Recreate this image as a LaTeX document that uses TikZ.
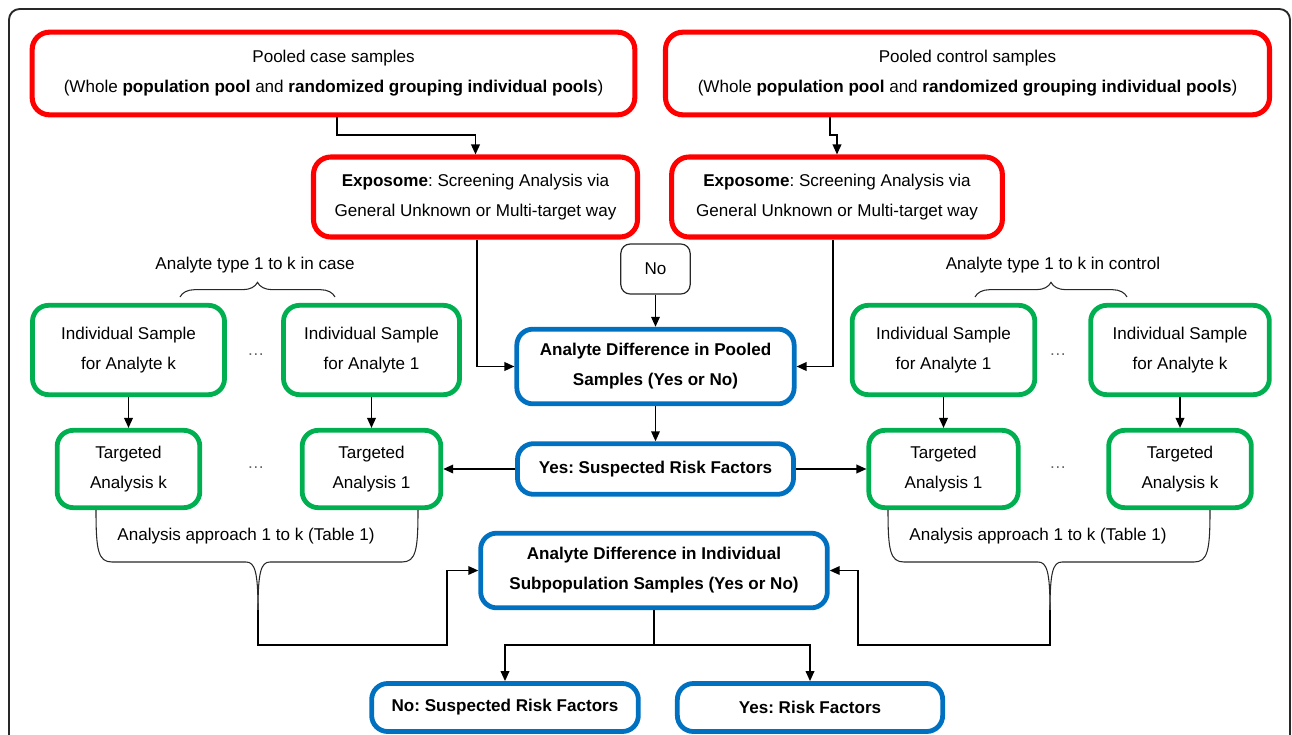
\documentclass[tikz,border=0pt]{standalone}
\usepackage{fontspec}
\setmainfont{Liberation Sans}
\usepackage{xcolor}
\usepackage{tikz}
\usetikzlibrary{arrows.meta, positioning, decorations.pathreplacing}
\frenchspacing

\definecolor{poolred}{RGB}{255,0,0}
\definecolor{samplegreen}{RGB}{0,176,80}
\definecolor{resultblue}{RGB}{0,112,192}
\definecolor{framegray}{RGB}{40,40,40}

\begin{document}
\begin{tikzpicture}[x=0.75pt,y=0.75pt,yscale=-1,xscale=1,
  every node/.style={font=\fontsize{12.8}{22.5}\selectfont, align=center, inner sep=0pt},
  redbox/.style={draw=poolred, line width=3.8pt, rounded corners=13pt, fill=white},
  greenbox/.style={draw=samplegreen, line width=3.6pt, rounded corners=12pt, fill=white},
  bluebox/.style={draw=resultblue, line width=3.6pt, rounded corners=12pt, fill=white, font=\fontsize{12.8}{22.5}\selectfont\bfseries},
  nobox/.style={draw=framegray, line width=0.9pt, rounded corners=7pt, fill=white},
  arr/.style={draw=black, line width=1.1pt, -{Triangle[length=7.5pt,width=6.5pt]}},
  bracestyle/.style={draw=framegray, line width=0.8pt},
  dotsnode/.style={text=black!60}
]
\useasboundingbox (0,0) rectangle (1292,735);

%Frame
\draw[framegray, line width=1.4pt, rounded corners=8pt] (9,740) -- (9,9) -- (1290,9) -- (1290,740);

%Pooled samples
\node[redbox, minimum width=452pt, minimum height=62pt] (casepool) at (333.5,73.5)
  {Pooled case samples\\(Whole \textbf{population pool} and \textbf{randomized grouping individual pools})};
\node[redbox, minimum width=453pt, minimum height=62pt] (ctrlpool) at (967.5,73.5)
  {Pooled control samples\\(Whole \textbf{population pool} and \textbf{randomized grouping individual pools})};

%Exposome screening
\node[redbox, minimum width=243pt, minimum height=60pt] (expcase) at (475.5,197)
  {\textbf{Exposome}: Screening Analysis via\\General Unknown or Multi-target way};
\node[redbox, minimum width=248pt, minimum height=60pt] (expctrl) at (837,197)
  {\textbf{Exposome}: Screening Analysis via\\General Unknown or Multi-target way};

%Pooled comparison
\node[nobox, minimum width=52pt, minimum height=37.5pt] (no) at (655.5,269) {No};
\node[bluebox, minimum width=208pt, minimum height=56pt] (pooleddiff) at (655.5,366.5)
  {Analyte Difference in Pooled\\Samples (Yes or No)};
\node[bluebox, minimum width=207pt, minimum height=38pt] (suspected) at (655.5,469)
  {Yes: Suspected Risk Factors};

%Individual samples, case side
\node[greenbox, minimum width=144pt, minimum height=67pt] (sampkcase) at (128.5,350)
  {Individual Sample\\for Analyte k};
\node[greenbox, minimum width=132pt, minimum height=67pt] (samponecase) at (371.5,350)
  {Individual Sample\\for Analyte 1};
\node[greenbox, minimum width=107pt, minimum height=58pt] (targkcase) at (128.5,469)
  {Targeted\\Analysis k};
\node[greenbox, minimum width=104pt, minimum height=58pt] (targonecase) at (371.5,469)
  {Targeted\\Analysis 1};

%Individual samples, control side
\node[greenbox, minimum width=137pt, minimum height=67pt] (samponectrl) at (943.5,350)
  {Individual Sample\\for Analyte 1};
\node[greenbox, minimum width=134pt, minimum height=67pt] (sampkctrl) at (1180,350)
  {Individual Sample\\for Analyte k};
\node[greenbox, minimum width=112pt, minimum height=58pt] (targonectrl) at (943.5,469)
  {Targeted\\Analysis 1};
\node[greenbox, minimum width=107pt, minimum height=58pt] (targkctrl) at (1180,469)
  {Targeted\\Analysis k};

\node[dotsnode] (dotsa) at (256,355) {\dots};
\node[dotsnode] (dotsb) at (256,468) {\dots};
\node[dotsnode] (dotsc) at (1058,355) {\dots};
\node[dotsnode] (dotsd) at (1058,468) {\dots};

%Individual comparison
\node[bluebox, minimum width=260pt, minimum height=56pt] (indivdiff) at (654,570.5)
  {Analyte Difference in Individual\\Subpopulation Samples (Yes or No)};
\node[bluebox, minimum width=200pt, minimum height=36pt] (nosusp) at (505,707.5)
  {No: Suspected Risk Factors};
\node[bluebox, minimum width=199pt, minimum height=36pt] (yesrisk) at (810,707.5)
  {Yes: Risk Factors};

%Braces
\node (typecase) at (255,265) {Analyte type 1 to k in case};
\node (typectrl) at (1053,265) {Analyte type 1 to k in control};
\draw[bracestyle, decorate, decoration={brace, amplitude=11pt}] (180,297) -- (335,297);
\draw[bracestyle, decorate, decoration={brace, amplitude=11pt}] (975,297) -- (1127,297);

\node (approachcase) at (246,536) {Analysis approach 1 to k (Table 1)};
\node (approachctrl) at (1038,536) {Analysis approach 1 to k (Table 1)};
\coordinate (tipcase) at (258,610);
\coordinate (tipctrl) at (1050,610);
\draw[bracestyle] (96,510) .. controls (96,550) and (98,562) .. (112,562) -- (246,562) .. controls (255,562) and (258,572) .. (tipcase);
\draw[bracestyle] (418,510) .. controls (418,550) and (416,562) .. (402,562) -- (270,562) .. controls (261,562) and (258,572) .. (tipcase);
\draw[bracestyle] (888,510) .. controls (888,550) and (890,562) .. (904,562) -- (1038,562) .. controls (1047,562) and (1050,572) .. (tipctrl);
\draw[bracestyle] (1210,510) .. controls (1210,550) and (1208,562) .. (1194,562) -- (1062,562) .. controls (1053,562) and (1050,572) .. (tipctrl);

%Connectors
\draw[arr] (casepool.south -| 337,0) -- (337,135) -| (expcase.north);
\draw[arr] (ctrlpool.south -| 830,0) -- (830,135) -| (expctrl.north);
\draw[arr] (expcase.south -| 477,0) |- (pooleddiff.west);
\draw[arr] (expctrl.south -| 833,0) |- (pooleddiff.east);
\draw[arr] (no.south) -- (pooleddiff.north);
\draw[arr] (pooleddiff.south) -- (suspected.north);
\draw[arr] (suspected.west) -- (suspected.west -| targonecase.east);
\draw[arr] (suspected.east) -- (suspected.east -| targonectrl.west);
\draw[arr] (sampkcase.south) -- (targkcase.north);
\draw[arr] (samponecase.south) -- (targonecase.north);
\draw[arr] (samponectrl.south) -- (targonectrl.north);
\draw[arr] (sampkctrl.south) -- (targkctrl.north);
\draw[arr] (tipcase) |- (447,645) |- (indivdiff.west);
\draw[arr] (tipctrl) |- (858,645) |- (indivdiff.east);
\draw[arr] (indivdiff.south) -- (indivdiff.south |- 0,645) -| (nosusp.north);
\draw[arr] (indivdiff.south |- 0,645) -| (yesrisk.north);

\end{tikzpicture}
\end{document}
